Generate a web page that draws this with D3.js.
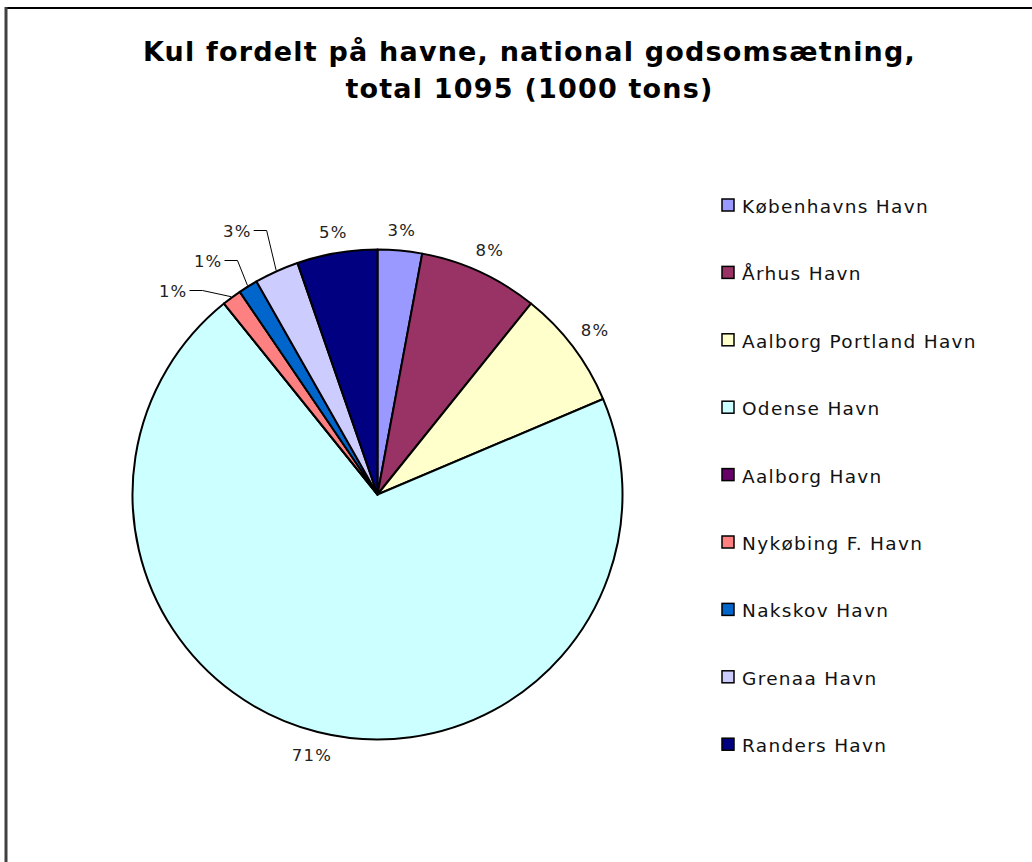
<!DOCTYPE html>
<html>
<head>
<meta charset="utf-8">
<script src="https://cdn.jsdelivr.net/npm/d3@7"></script>
<style>
body { margin:0; background:#fff; }
text { font-family: "DejaVu Sans", Verdana, sans-serif; }
</style>
</head>
<body>
<div id="chart"></div>
<script>
var width = 1032
var height = 862
// 1000 tons, total 1095
var ports = ["Københavns Havn","Århus Havn","Aalborg Portland Havn","Odense Havn","Aalborg Havn","Nykøbing F. Havn","Nakskov Havn","Grenaa Havn","Randers Havn"]
var tons = [32, 86, 86, 773, 0, 14, 14, 32, 58]
var colors = ["#9999FF","#993366","#FFFFCC","#CCFFFF","#660066","#FF8080","#0066CC","#CCCCFF","#000080"]
var titleLines = ["Kul fordelt på havne, national godsomsætning,","total 1095 (1000 tons)"]
var leaderPorts = ["Grenaa Havn","Nakskov Havn","Nykøbing F. Havn"]

var cx = 377.5, cy = 494.5, radius = 245
var total = d3.sum(tons)
var fmt = d3.format(".0%")

var svg = d3.select("#chart").append("svg")
	.attr("width",width)
	.attr("height",height)

// frame (only top and left edge are visible in the original)
svg.append("line").attr("x1",5).attr("x2",width).attr("y1",8).attr("y2",8)
	.style("stroke","#000").style("stroke-width",2)
svg.append("line").attr("x1",6).attr("x2",6).attr("y1",7).attr("y2",height)
	.style("stroke","#404040").style("stroke-width",3)

svg.selectAll(".title")
	.data(titleLines)
	.enter()
	.append("text")
	.attr("class","title")
	.attr("x",529.5)
	.attr("y",function(d,i){ return 61+i*37 })
	.style("text-anchor","middle")
	.style("font-weight","bold")
	.style("font-size","27px")
	.style("letter-spacing","1.2px")
	.text(function(d){ return d })

var pie = d3.pie().sort(null).value(function(d){ return d })
var arcs = pie(tons)
var arc = d3.arc().innerRadius(0).outerRadius(radius)

var g = svg.append("g").attr("transform","translate("+cx+","+cy+")")

g.selectAll(".slice")
	.data(arcs)
	.enter()
	.append("path")
	.attr("class","slice")
	.attr("d",arc)
	.style("fill",function(d,i){ return colors[i] })
	.style("stroke","#000")
	.style("stroke-width",2)
	.style("stroke-linejoin","round")

function polar(a,r){
	return [Math.sin(a)*r, -Math.cos(a)*r]
}
function addLabel(x,y,txt){
	return g.append("text")
		.attr("x",x).attr("y",y)
		.attr("dy","0.35em")
		.style("text-anchor","middle")
		.style("font-size","16.5px")
		.style("letter-spacing","1.2px")
		.style("fill","#222")
		.text(txt)
}

// normal outside labels: keep the label box a fixed gap off the rim
arcs.forEach(function(d){
	if(d.value==0 || leaderPorts.indexOf(ports[d.index])!=-1) return
	var mid = (d.startAngle+d.endAngle)/2
	var t = addLabel(0,0,fmt(d.value/total))
	var hw = t.node().getComputedTextLength()/2
	var ext = Math.abs(Math.sin(mid))*hw + Math.abs(Math.cos(mid))*7
	var p = polar(mid, radius+12+ext)
	t.attr("x",p[0]).attr("y",p[1])
})

// small slices on the upper left: stacked labels with leader lines
var prevY = null
leaderPorts.forEach(function(name){
	var d = arcs[ports.indexOf(name)]
	var mid = (d.startAngle+d.endAngle)/2
	var p = polar(mid-0.065, 298)
	if(prevY!=null && p[1]<prevY+30){
		p[1] = prevY+30
		p[0] = -Math.sqrt(288*288-p[1]*p[1])
	}
	prevY = p[1]
	var t = addLabel(p[0],p[1],fmt(d.value/total))
	var w = t.node().getComputedTextLength()
	var end = polar(mid, radius+1)
	var sx = p[0]+w/2+2
	g.append("polyline")
		.attr("points",[[sx,p[1]-1],[sx+13,p[1]-1],end].join(" "))
		.style("fill","none")
		.style("stroke","#000")
		.style("stroke-width",1)
})

var legend = svg.selectAll(".legend")
	.data(ports)
	.enter()
	.append("g")
	.attr("class","legend")
	.attr("transform",function(d,i){ return "translate(722,"+(199+i*67.4)+")" })
legend.append("rect")
	.attr("width",12).attr("height",12)
	.style("fill",function(d,i){ return colors[i] })
	.style("stroke","#000")
	.style("stroke-width",1.5)
legend.append("text")
	.attr("x",20).attr("y",14)
	.style("font-size","18.5px")
	.style("letter-spacing","1.3px")
	.style("fill","#111")
	.text(function(d){ return d })
</script>
</body>
</html>
